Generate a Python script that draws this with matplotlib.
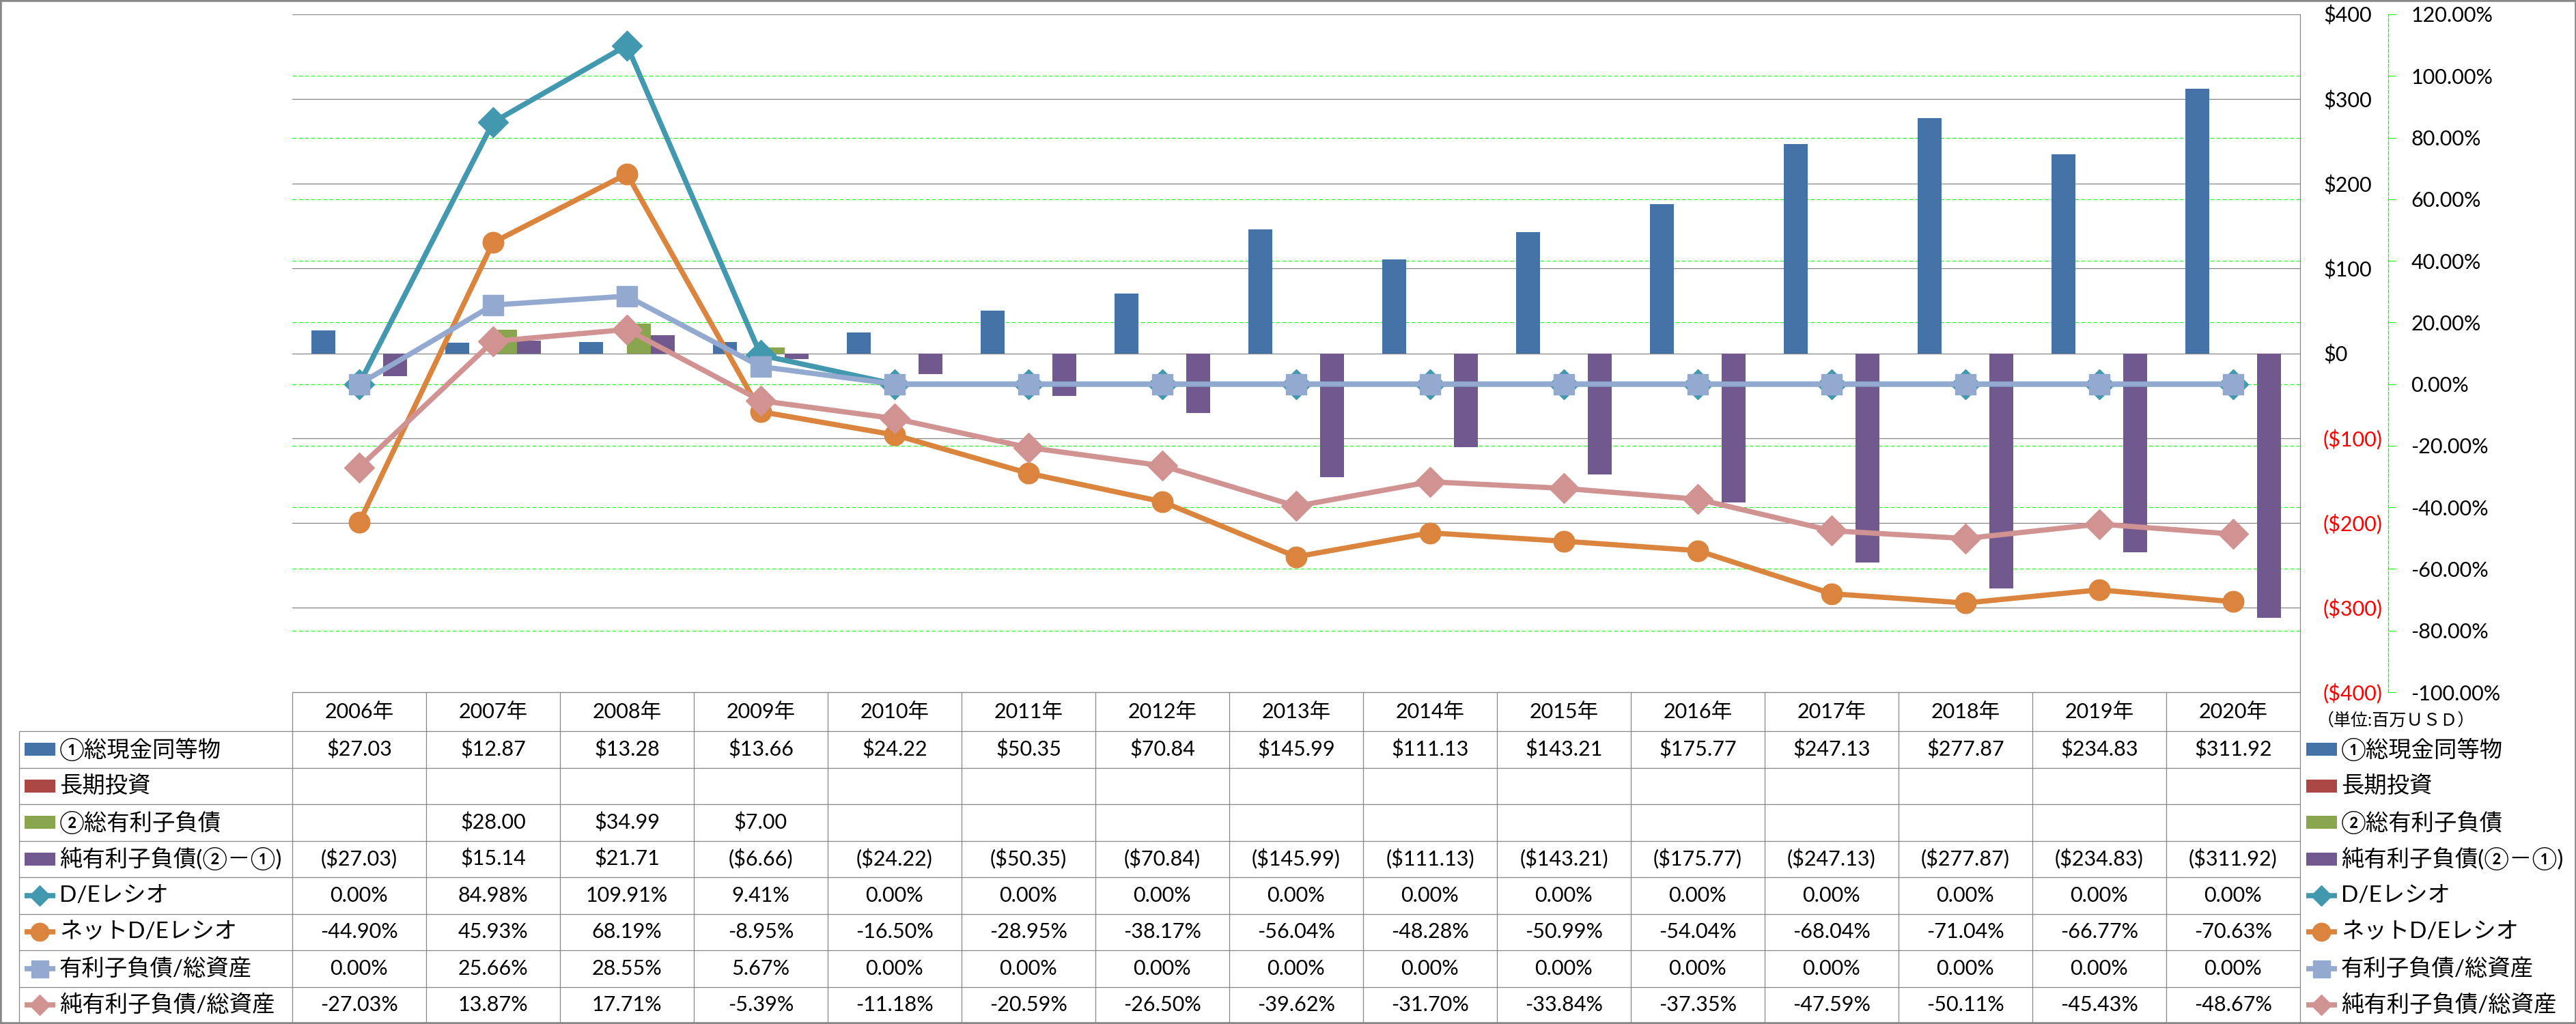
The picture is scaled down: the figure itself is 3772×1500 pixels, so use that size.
import numpy as np
import matplotlib
matplotlib.use('Agg')
import matplotlib.pyplot as plt
from matplotlib.patches import Rectangle
from matplotlib.lines import Line2D

plt.rcParams['font.family'] = ['Lato', 'Noto Sans CJK JP', 'DejaVu Sans']

# ---- data (USD millions / %) ----
years = ['2006年', '2007年', '2008年', '2009年', '2010年', '2011年', '2012年', '2013年',
         '2014年', '2015年', '2016年', '2017年', '2018年', '2019年', '2020年']
nan = np.nan
cash = [27.03, 12.87, 13.28, 13.66, 24.22, 50.35, 70.84, 145.99, 111.13, 143.21,
        175.77, 247.13, 277.87, 234.83, 311.92]
lt_invest = [nan] * 15
debt = [nan, 28.00, 34.99, 7.00, nan, nan, nan, nan, nan, nan, nan, nan, nan, nan, nan]
net_debt = [-27.03, 15.14, 21.71, -6.66, -24.22, -50.35, -70.84, -145.99, -111.13,
            -143.21, -175.77, -247.13, -277.87, -234.83, -311.92]
de_ratio = [0.00, 84.98, 109.91, 9.41, 0.00, 0.00, 0.00, 0.00, 0.00, 0.00, 0.00,
            0.00, 0.00, 0.00, 0.00]
net_de_ratio = [-44.90, 45.93, 68.19, -8.95, -16.50, -28.95, -38.17, -56.04, -48.28,
                -50.99, -54.04, -68.04, -71.04, -66.77, -70.63]
debt_assets = [0.00, 25.66, 28.55, 5.67, 0.00, 0.00, 0.00, 0.00, 0.00, 0.00, 0.00,
               0.00, 0.00, 0.00, 0.00]
net_debt_assets = [-27.03, 13.87, 17.71, -5.39, -11.18, -20.59, -26.50, -39.62, -31.70,
                   -33.84, -37.35, -47.59, -50.11, -45.43, -48.67]

bar_names = ['①総現金同等物', '長期投資', '②総有利子負債', '純有利子負債(②－①)']
bar_data = [cash, lt_invest, debt, net_debt]
bar_colors = ['#4572A7', '#AA4643', '#89A54E', '#71588F']

line_names = ['D/Eレシオ', 'ネットD/Eレシオ', '有利子負債/総資産', '純有利子負債/総資産']
line_data = [de_ratio, net_de_ratio, debt_assets, net_debt_assets]
line_colors = ['#4198AF', '#DB843D', '#93A9CF', '#D19392']
line_markers = ['D', 'o', 's', 'D']

money_ticks = [400, 300, 200, 100, 0, -100, -200, -300, -400]
pct_ticks = [120, 100, 80, 60, 40, 20, 0, -20, -40, -60, -80, -100]

W, H = 3773, 1500
FS = 22
FS_NAME = 24
GRAY = '#868686'
LIME = '#00FF00'


def money(v, nd=2):
    if np.isnan(v):
        return ''
    return f'(${-v:,.{nd}f})' if v < 0 else f'${v:,.{nd}f}'


def pct(v):
    return f'{v:.2f}%'


fig = plt.figure(figsize=(W / 100, H / 100), dpi=100)

# plot area in pixels
px_l, px_r, px_t, px_b = 428, 3368, 21, 1014
ax1 = fig.add_axes([px_l / W, 1 - px_b / H, (px_r - px_l) / W, (px_b - px_t) / H])
ax2 = ax1.twinx()
ax2.set_zorder(0)
ax1.set_zorder(1)
ax1.patch.set_visible(False)

x = np.arange(len(years))
bw = 35 / 196
for i, (vals, c) in enumerate(zip(bar_data, bar_colors)):
    ax1.bar(x + (i - 1.5) * bw, vals, width=bw, color=c, zorder=2)

for i, (vals, c, m) in enumerate(zip(line_data, line_colors, line_markers)):
    ms = 21 if m == 's' else 22
    ax1.plot(x, vals, color=c, lw=5.5, marker=m, ms=ms, mec=c, mfc=c,
             transform=ax2.transData, zorder=3 + i, solid_joinstyle='round')

ax1.set_xlim(-0.5, len(years) - 0.5)
ax1.set_ylim(-400, 400)
ax2.set_ylim(-100, 120)
ax1.set_xticks([])
ax2.set_xticks([])

# primary axis (labels on the right)
ax1.yaxis.tick_right()
ax1.set_yticks(money_ticks, labels=[money(v, 0) for v in money_ticks])
ax1.tick_params(axis='y', length=0, pad=24.5, labelsize=FS)
for t, v in zip(ax1.yaxis.get_major_ticks(), money_ticks):
    t.label2.set_color('red' if v < 0 else 'black')
ax1.yaxis.grid(True, color=GRAY, lw=0.9)
ax1.set_axisbelow(True)
for s in ['top', 'left', 'bottom']:
    ax1.spines[s].set_visible(False)
ax1.spines['right'].set_color(GRAY)
ax1.spines['right'].set_linewidth(0.9)

# secondary axis
ax2.set_yticks(pct_ticks, labels=[pct(v) for v in pct_ticks])
ax2.tick_params(axis='y', direction='out', length=8, width=0.8, color=LIME,
                pad=16, labelsize=FS)
for t, v in zip(ax2.yaxis.get_major_ticks(), pct_ticks):
    t.label2.set_color('red' if v < 0 else 'black')
ax2.yaxis.grid(True, color=LIME, lw=0.72, linestyle=(0, (6, 3)))
for s in ['top', 'left', 'bottom']:
    ax2.spines[s].set_visible(False)
ax2.spines['right'].set_position(('outward', 129 / 1.389))
ax2.spines['right'].set_color(LIME)
ax2.spines['right'].set_linewidth(0.9)
ax2.spines['right'].set_linestyle((0, (4, 2)))

# ---- data table below the chart, in pixel coordinates ----
tab = fig.add_axes([0, 0, 1, 1], zorder=5)
tab.set_xlim(0, W)
tab.set_ylim(H, 0)
tab.axis('off')

n = len(years)
col_w = (px_r - px_l) / n
hdr_top, hdr_bot, tab_bot = px_b, 1071, 1499
nrows = len(bar_names) + len(line_names)
row_h = (tab_bot - hdr_bot) / nrows
lab_l = 28
lk = dict(color=GRAY, lw=0.9, solid_capstyle='butt')

tab.plot([px_l, px_r], [hdr_top, hdr_top], **lk)
for k in range(nrows + 1):
    yy = hdr_bot + k * row_h
    tab.plot([lab_l, px_r], [yy, yy], **lk)
tab.plot([lab_l, lab_l], [hdr_bot, tab_bot], **lk)
for j in range(n + 1):
    xx = px_l + j * col_w
    tab.plot([xx, xx], [hdr_top, tab_bot], **lk)

for j, yname in enumerate(years):
    tab.text(px_l + (j + 0.5) * col_w, (hdr_top + hdr_bot) / 2, yname,
             ha='center', va='center', fontsize=FS)

rows = []
for name, vals, c in zip(bar_names, bar_data, bar_colors):
    rows.append((name, [money(v) for v in vals], c, None))
for name, vals, c, m in zip(line_names, line_data, line_colors, line_markers):
    rows.append((name, [pct(v) for v in vals], c, m))


def key_icon(x0, yc, c, m):
    if m is None:
        tab.add_patch(Rectangle((x0, yc - 9.5), 45, 19, color=c, lw=0))
    else:
        ms = {'D': 15, 'o': 19, 's': 18}[m]
        tab.add_line(Line2D([x0, x0 + 45], [yc, yc], color=c, lw=5.5,
                            solid_capstyle='butt'))
        tab.add_line(Line2D([x0 + 22.5], [yc], color=c, marker=m, ms=ms,
                            mec=c, mfc=c))


for k, (name, cells, c, m) in enumerate(rows):
    yc = hdr_bot + (k + 0.5) * row_h
    key_icon(36, yc, c, m)
    tab.text(87, yc, name, ha='left', va='center', fontsize=FS_NAME)
    for j, s in enumerate(cells):
        tab.text(px_l + (j + 0.5) * col_w, yc, s, ha='center', va='center', fontsize=FS)
    # legend to the right of the table
    key_icon(3377, yc, c, m)
    tab.text(3428, yc, name, ha='left', va='center', fontsize=FS_NAME)

tab.text(3393, 1055, '（単位:百万ＵＳＤ）', ha='left', va='center', fontsize=18)

# outer frame
tab.add_patch(Rectangle((0, 0), W, H, fill=False, ec='#878787', lw=4))

fig.savefig('out.png', dpi=100)
